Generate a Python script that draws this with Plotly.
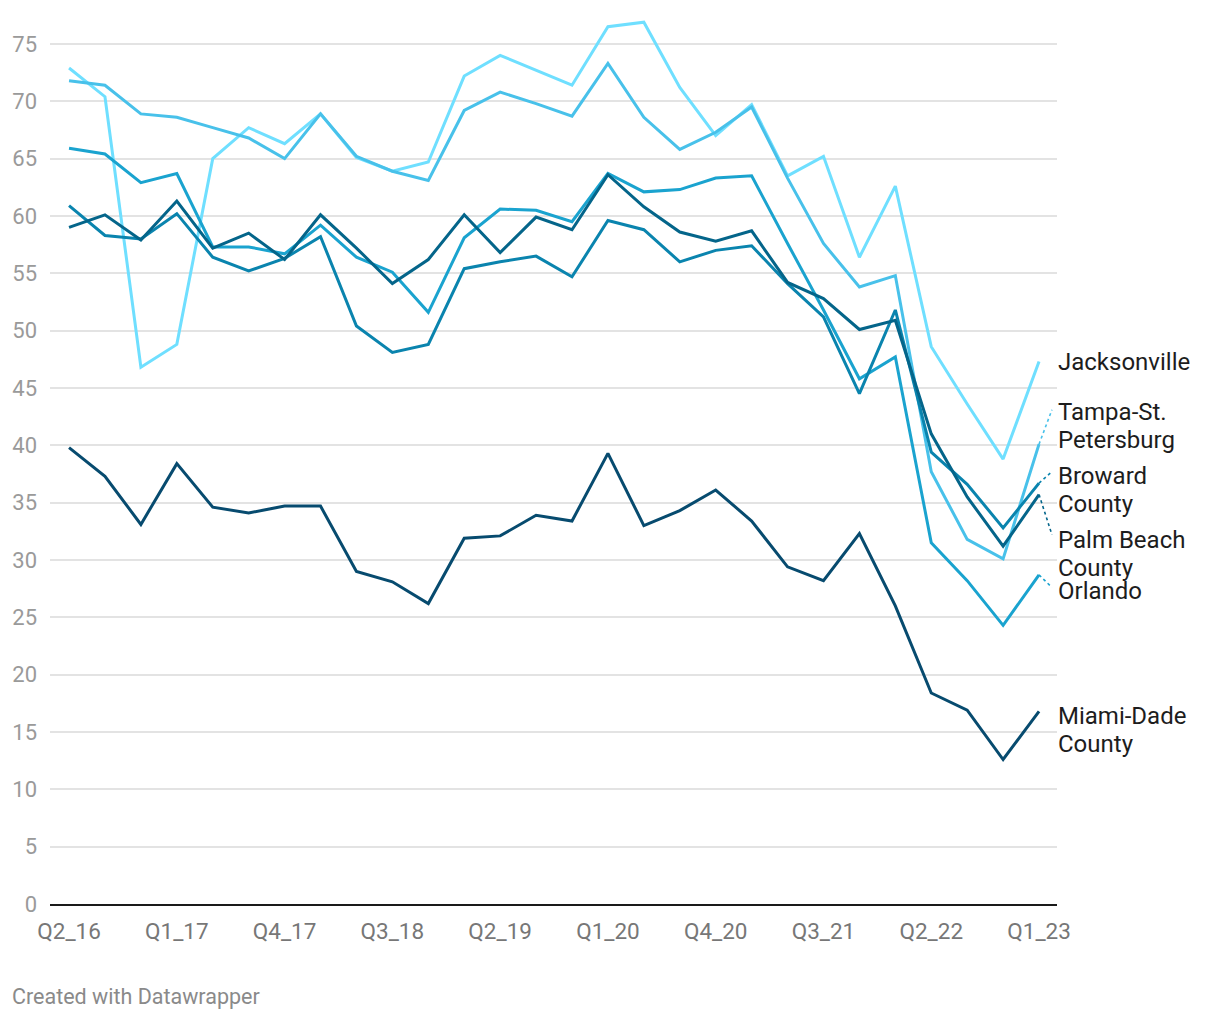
import plotly.graph_objects as go

quarters = ["Q2_16", "Q3_16", "Q4_16", "Q1_17", "Q2_17", "Q3_17", "Q4_17", "Q1_18",
            "Q2_18", "Q3_18", "Q4_18", "Q1_19", "Q2_19", "Q3_19", "Q4_19", "Q1_20",
            "Q2_20", "Q3_20", "Q4_20", "Q1_21", "Q2_21", "Q3_21", "Q4_21", "Q1_22",
            "Q2_22", "Q3_22", "Q4_22", "Q1_23"]

jacksonville = [72.9, 70.4, 46.8, 48.8, 65.0, 67.7, 66.3, 68.9, 65.1, 63.9, 64.7, 72.2, 74.0, 72.7,
                71.4, 76.5, 76.9, 71.2, 67.0, 69.7, 63.5, 65.2, 56.4, 62.6, 48.6, 43.6, 38.8, 47.3]
tampa = [71.8, 71.4, 68.9, 68.6, 67.7, 66.8, 65.0, 68.9, 65.2, 63.9, 63.1, 69.2, 70.8, 69.8,
         68.7, 73.3, 68.6, 65.8, 67.3, 69.5, 63.3, 57.6, 53.8, 54.8, 37.7, 31.8, 30.1, 40.1]
orlando = [65.9, 65.4, 62.9, 63.7, 57.3, 57.3, 56.7, 59.2, 56.4, 55.1, 51.6, 58.1, 60.6, 60.5,
           59.5, 63.7, 62.1, 62.3, 63.3, 63.5, 57.6, 51.8, 45.8, 47.7, 31.5, 28.2, 24.3, 28.7]
broward = [60.9, 58.3, 58.0, 60.2, 56.4, 55.2, 56.3, 58.2, 50.4, 48.1, 48.8, 55.4, 56.0, 56.5,
           54.7, 59.6, 58.8, 56.0, 57.0, 57.4, 54.1, 51.2, 44.5, 51.8, 39.4, 36.6, 32.8, 36.7]
palm_beach = [59.0, 60.1, 57.9, 61.3, 57.2, 58.5, 56.2, 60.1, 57.2, 54.1, 56.2, 60.1, 56.8, 59.9,
              58.8, 63.6, 60.8, 58.6, 57.8, 58.7, 54.2, 52.8, 50.1, 50.9, 41.0, 35.5, 31.2, 35.7]
miami_dade = [39.8, 37.3, 33.1, 38.4, 34.6, 34.1, 34.7, 34.7, 29.0, 28.1, 26.2, 31.9, 32.1, 33.9,
              33.4, 39.3, 33.0, 34.3, 36.1, 33.4, 29.4, 28.2, 32.3, 26.0, 18.4, 16.9, 12.6, 16.8]

series_names = ["Jacksonville", "Tampa-St. Petersburg", "Orlando", "Broward County",
                "Palm Beach County", "Miami-Dade County"]
series_values = [jacksonville, tampa, orlando, broward, palm_beach, miami_dade]
label_lines = [["Jacksonville"], ["Tampa-St.", "Petersburg"], ["Orlando"], ["Broward", "County"],
               ["Palm Beach", "County"], ["Miami-Dade", "County"]]
y_tick_values = list(range(0, 80, 5))
x_tick_step = 3

# layout / style (not data)
colors = ["#6fdfff", "#48c1ea", "#1aa3cf", "#0a84ae", "#04658a", "#074b6f"]
label_y = [47.27, 42.91, 27.3, 37.32, 31.74, 16.39]           # first-line anchor positions (data units)
connector_end_y = [None, 43.1, 27.6, 37.7, 32.2, None]        # where dotted leader meets label
LINE_GAP = 28
FONT = "Roboto, 'Noto Sans', sans-serif"

x = list(range(len(quarters)))
last = x[-1]

fig = go.Figure()
for name, vals, col in zip(series_names, series_values, colors):
    fig.add_trace(go.Scatter(x=x, y=vals, mode="lines", name=name,
                             line=dict(color=col, width=3), hoverinfo="skip"))

for vals, col, cy in zip(series_values, colors, connector_end_y):
    if cy is not None:
        fig.add_trace(go.Scatter(x=[last, last + 0.36], y=[vals[-1], cy], mode="lines",
                                 line=dict(color=col, width=1.6, dash="dot"),
                                 hoverinfo="skip", showlegend=False, cliponaxis=False))

annotations = []
for lines, ly in zip(label_lines, label_y):
    for k, txt in enumerate(lines):
        annotations.append(dict(x=last, y=ly, xref="x", yref="y", text=txt, showarrow=False,
                                xanchor="left", yanchor="middle", xshift=17, yshift=-LINE_GAP * k,
                                align="left",
                                font=dict(family=FONT, size=24, color="#1d1d1d")))
annotations.append(dict(x=-0.0397, y=-0.104, xref="paper", yref="paper",
                        text="Created with Datawrapper", showarrow=False,
                        xanchor="left", yanchor="middle",
                        font=dict(family=FONT, size=21.5, color="#8a8a8a")))

fig.update_layout(
    width=1220, height=1020,
    margin=dict(l=50, r=163, t=10, b=116),
    paper_bgcolor="white", plot_bgcolor="white",
    showlegend=False,
    annotations=annotations,
    xaxis=dict(range=[-0.53, 27.5], tickmode="array",
               tickvals=x[::x_tick_step], ticktext=quarters[::x_tick_step],
               showgrid=False, zeroline=False, showline=True, linecolor="#1a1a1a",
               linewidth=2, ticks="", ticklabelstandoff=6,
               tickfont=dict(family=FONT, size=22.5, color="#777777")),
    yaxis=dict(range=[0, 77.96], tickmode="array", tickvals=y_tick_values,
               showgrid=True, gridcolor="#e3e3e3", gridwidth=1.5, zeroline=False,
               ticks="", ticklabelstandoff=12,
               tickfont=dict(family=FONT, size=22, color="#9a9a9a")),
)

fig.write_html("out.html", config={"displayModeBar": False},
               post_script="document.body.style.margin='0';")
